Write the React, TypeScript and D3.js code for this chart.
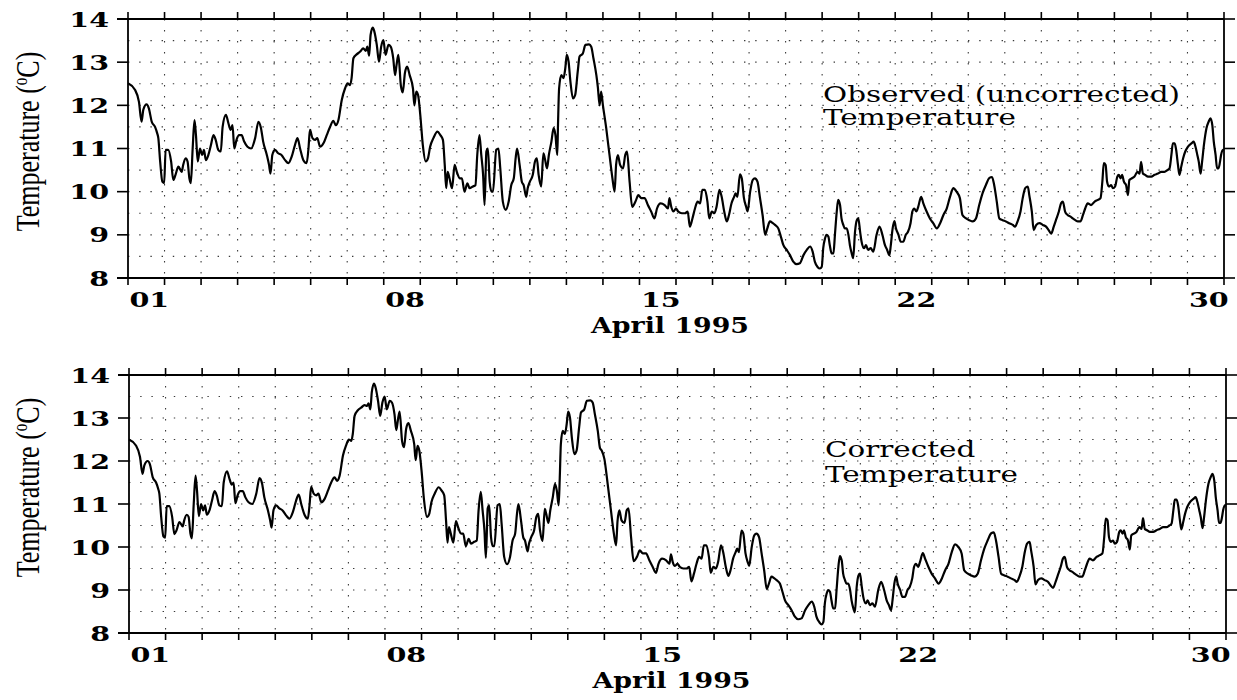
import React from 'react';
import * as d3 from 'd3';

// time in days since 1 April 1995 00:00, temperature in °C
const observed: [number, number][] = [
  [0, 12.51], [0.19, 12.36], [0.3, 12.08], [0.37, 11.62], [0.42, 11.9], [0.51, 12.02], [0.57, 11.93], [0.65, 11.62],
  [0.74, 11.5], [0.8, 11.35], [0.83, 11.24], [0.88, 10.7], [0.94, 10.23], [0.99, 10.2], [1.03, 10.97], [1.1, 10.97],
  [1.18, 10.7], [1.24, 10.27], [1.3, 10.39], [1.38, 10.58], [1.47, 10.46], [1.51, 10.62], [1.58, 10.77], [1.63, 10.7],
  [1.68, 10.31], [1.72, 10.2], [1.77, 11.0], [1.82, 11.66], [1.86, 11.31], [1.91, 10.7], [1.97, 11.0], [2.03, 10.85],
  [2.08, 10.97], [2.13, 10.73], [2.2, 10.85], [2.27, 11.08], [2.34, 11.31], [2.4, 11.2], [2.47, 10.97], [2.54, 10.93],
  [2.59, 11.5], [2.68, 11.78], [2.75, 11.58], [2.81, 11.43], [2.86, 11.54], [2.91, 11.0], [2.97, 11.2], [3.04, 11.31],
  [3.11, 11.31], [3.18, 11.16], [3.27, 11.04], [3.37, 11.0], [3.48, 11.24], [3.57, 11.62], [3.64, 11.47], [3.7, 11.16],
  [3.8, 10.85], [3.86, 10.62], [3.9, 10.42], [3.95, 10.85], [4.02, 10.97], [4.11, 10.89], [4.2, 10.85], [4.3, 10.73],
  [4.39, 10.66], [4.48, 10.81], [4.57, 11.08], [4.64, 11.24], [4.71, 11.0], [4.8, 10.73], [4.89, 10.66], [4.94, 11.0],
  [4.98, 11.43], [5.05, 11.24], [5.12, 11.2], [5.18, 11.24], [5.26, 11.04], [5.35, 11.12], [5.44, 11.31], [5.53, 11.5],
  [5.62, 11.64], [5.69, 11.54], [5.76, 11.66], [5.85, 12.12], [5.94, 12.39], [6.01, 12.51], [6.08, 12.47], [6.12, 12.63],
  [6.17, 13.09], [6.26, 13.18], [6.35, 13.24], [6.44, 13.32], [6.51, 13.26], [6.55, 13.36], [6.6, 13.15], [6.64, 13.63],
  [6.7, 13.8], [6.74, 13.72], [6.81, 13.4], [6.87, 13.01], [6.93, 13.36], [6.99, 13.51], [7.05, 13.17], [7.13, 13.4],
  [7.19, 13.36], [7.26, 13.09], [7.31, 12.7], [7.35, 12.93], [7.4, 13.17], [7.47, 12.45], [7.52, 12.3], [7.58, 12.75],
  [7.64, 12.9], [7.71, 12.7], [7.8, 12.39], [7.84, 12.0], [7.89, 12.32], [7.94, 12.24], [8.0, 11.78], [8.07, 11.08],
  [8.15, 10.7], [8.21, 10.77], [8.27, 11.04], [8.36, 11.24], [8.47, 11.39], [8.55, 11.31], [8.62, 11.2], [8.67, 10.62],
  [8.71, 10.08], [8.75, 10.46], [8.8, 10.31], [8.87, 10.08], [8.94, 10.62], [9.0, 10.46], [9.08, 10.31], [9.14, 10.31],
  [9.21, 10.0], [9.29, 10.19], [9.35, 10.08], [9.44, 10.12], [9.51, 10.15], [9.56, 10.85], [9.62, 11.31], [9.67, 10.85],
  [9.72, 10.39], [9.76, 9.69], [9.81, 10.93], [9.85, 11.0], [9.9, 10.23], [9.95, 10.0], [9.99, 10.0], [10.08, 10.97],
  [10.14, 11.0], [10.19, 10.54], [10.26, 9.77], [10.34, 9.58], [10.42, 9.77], [10.49, 10.15], [10.56, 10.31], [10.61, 10.77],
  [10.65, 11.0], [10.72, 10.62], [10.78, 10.23], [10.83, 10.15], [10.9, 9.88], [10.94, 10.08], [11.0, 10.23], [11.08, 10.39],
  [11.14, 10.7], [11.19, 10.77], [11.24, 10.39], [11.31, 10.12], [11.37, 10.89], [11.41, 10.77], [11.47, 10.54], [11.52, 10.85],
  [11.59, 11.16], [11.65, 11.47], [11.7, 11.31], [11.75, 10.85], [11.77, 11.54], [11.8, 12.39], [11.86, 12.7], [11.92, 12.63],
  [11.97, 12.86], [12.01, 13.17], [12.06, 13.01], [12.11, 12.55], [12.18, 12.16], [12.24, 12.24], [12.31, 12.78], [12.36, 13.13],
  [12.45, 13.2], [12.52, 13.4], [12.62, 13.41], [12.68, 13.36], [12.74, 13.09], [12.82, 12.7], [12.86, 12.43], [12.91, 12.0],
  [12.95, 12.32], [13.0, 12.0], [13.09, 11.47], [13.18, 10.85], [13.26, 10.31], [13.32, 10.0], [13.36, 10.62], [13.41, 10.85],
  [13.47, 10.62], [13.55, 10.54], [13.61, 10.85], [13.66, 10.93], [13.73, 10.23], [13.8, 9.65], [13.89, 9.77], [13.97, 9.92],
  [14.05, 9.85], [14.14, 9.85], [14.23, 9.69], [14.32, 9.54], [14.41, 9.38], [14.48, 9.61], [14.58, 9.73], [14.69, 9.69],
  [14.78, 9.61], [14.82, 9.85], [14.87, 9.65], [14.93, 9.54], [15.0, 9.61], [15.06, 9.54], [15.16, 9.5], [15.25, 9.5],
  [15.32, 9.54], [15.38, 9.19], [15.45, 9.38], [15.52, 9.61], [15.59, 9.77], [15.66, 9.73], [15.72, 10.04], [15.79, 10.04],
  [15.86, 9.77], [15.91, 9.38], [15.98, 9.54], [16.05, 9.5], [16.11, 9.65], [16.19, 10.04], [16.25, 9.88], [16.32, 9.54],
  [16.39, 9.31], [16.45, 9.46], [16.52, 9.73], [16.59, 9.88], [16.63, 9.96], [16.68, 9.88], [16.75, 10.4], [16.8, 10.31],
  [16.86, 9.85], [16.92, 9.65], [16.96, 9.54], [17.03, 10.0], [17.1, 10.27], [17.16, 10.31], [17.23, 10.23], [17.3, 9.85],
  [17.37, 9.46], [17.44, 9.0], [17.5, 9.15], [17.57, 9.31], [17.65, 9.27], [17.71, 9.23], [17.8, 9.15], [17.87, 8.96],
  [17.94, 8.76], [18.03, 8.65], [18.12, 8.53], [18.21, 8.38], [18.3, 8.32], [18.39, 8.34], [18.49, 8.53], [18.58, 8.65],
  [18.67, 8.73], [18.74, 8.61], [18.8, 8.38], [18.88, 8.25], [18.94, 8.22], [18.99, 8.26], [19.03, 8.69], [19.08, 8.92],
  [19.12, 9.0], [19.17, 8.96], [19.21, 8.76], [19.26, 8.57], [19.31, 8.57], [19.35, 9.0], [19.4, 9.54], [19.44, 9.81],
  [19.49, 9.69], [19.53, 9.38], [19.58, 9.23], [19.62, 9.15], [19.67, 9.15], [19.72, 9.0], [19.76, 8.76], [19.81, 8.57],
  [19.85, 8.46], [19.9, 9.07], [19.95, 9.34], [19.99, 9.38], [20.04, 9.07], [20.08, 8.84], [20.15, 8.69], [20.2, 8.76],
  [20.26, 8.65], [20.33, 8.69], [20.4, 8.61], [20.49, 9.0], [20.57, 9.19], [20.65, 9.0], [20.72, 8.76], [20.78, 8.65],
  [20.84, 8.53], [20.88, 8.76], [20.93, 9.15], [20.98, 9.32], [21.02, 9.15], [21.09, 9.0], [21.15, 8.84], [21.22, 8.84],
  [21.29, 9.0], [21.35, 9.07], [21.42, 9.27], [21.47, 9.54], [21.52, 9.61], [21.58, 9.54], [21.63, 9.65], [21.71, 9.88],
  [21.77, 9.73], [21.86, 9.54], [21.95, 9.38], [22.04, 9.27], [22.14, 9.15], [22.23, 9.27], [22.32, 9.46], [22.41, 9.61],
  [22.5, 9.88], [22.59, 10.08], [22.68, 10.0], [22.77, 9.85], [22.84, 9.46], [22.94, 9.38], [23.03, 9.34], [23.12, 9.31],
  [23.21, 9.38], [23.3, 9.69], [23.39, 9.96], [23.48, 10.15], [23.58, 10.32], [23.65, 10.34], [23.71, 10.15], [23.78, 9.77],
  [23.85, 9.38], [23.94, 9.34], [24.03, 9.31], [24.12, 9.27], [24.22, 9.23], [24.28, 9.19], [24.35, 9.31], [24.43, 9.54],
  [24.49, 9.85], [24.56, 10.08], [24.63, 10.12], [24.67, 9.92], [24.74, 9.54], [24.79, 9.11], [24.86, 9.23], [24.95, 9.27],
  [25.04, 9.23], [25.13, 9.19], [25.2, 9.11], [25.27, 9.03], [25.34, 9.19], [25.4, 9.34], [25.48, 9.54], [25.54, 9.73],
  [25.59, 9.77], [25.65, 9.54], [25.72, 9.46], [25.8, 9.42], [25.86, 9.38], [25.93, 9.34], [26.0, 9.31], [26.07, 9.31],
  [26.14, 9.46], [26.2, 9.61], [26.27, 9.73], [26.36, 9.69], [26.46, 9.77], [26.55, 9.81], [26.62, 9.85], [26.67, 10.23],
  [26.71, 10.66], [26.76, 10.62], [26.8, 10.23], [26.85, 10.12], [26.91, 10.15], [26.96, 10.08], [27.02, 10.12], [27.08, 10.35],
  [27.12, 10.39], [27.17, 10.31], [27.21, 10.39], [27.26, 10.23], [27.32, 10.15], [27.37, 9.92], [27.41, 10.27], [27.48, 10.31],
  [27.55, 10.35], [27.63, 10.46], [27.69, 10.42], [27.73, 10.69], [27.78, 10.42], [27.84, 10.39], [27.92, 10.35], [28.01, 10.35],
  [28.1, 10.39], [28.19, 10.42], [28.28, 10.46], [28.37, 10.46], [28.45, 10.5], [28.51, 10.54], [28.56, 10.85], [28.6, 11.12],
  [28.65, 11.12], [28.69, 10.97], [28.74, 10.62], [28.78, 10.39], [28.83, 10.58], [28.88, 10.77], [28.94, 10.93], [29.01, 11.04],
  [29.11, 11.12], [29.17, 11.16], [29.22, 11.04], [29.27, 10.85], [29.31, 10.69], [29.36, 10.42], [29.4, 10.69], [29.45, 11.08],
  [29.52, 11.47], [29.58, 11.62], [29.63, 11.7], [29.68, 11.54], [29.72, 11.16], [29.77, 10.85], [29.81, 10.54], [29.85, 10.54],
  [29.89, 10.69], [29.92, 10.85], [29.97, 10.97], [30.0, 10.97],
];

const corrected: [number, number][] = [
  [0, 12.5], [0.19, 12.36], [0.3, 12.1], [0.37, 11.7], [0.42, 11.9], [0.51, 12.0], [0.57, 11.93], [0.65, 11.62],
  [0.74, 11.5], [0.8, 11.35], [0.83, 11.24], [0.88, 10.7], [0.94, 10.25], [0.99, 10.22], [1.03, 10.95], [1.1, 10.95],
  [1.18, 10.7], [1.24, 10.3], [1.3, 10.39], [1.38, 10.58], [1.47, 10.48], [1.51, 10.62], [1.58, 10.75], [1.63, 10.7],
  [1.68, 10.31], [1.72, 10.2], [1.77, 11.0], [1.82, 11.66], [1.86, 11.31], [1.91, 10.72], [1.97, 11.0], [2.03, 10.85],
  [2.08, 10.97], [2.13, 10.75], [2.2, 10.85], [2.27, 11.08], [2.34, 11.3], [2.4, 11.2], [2.47, 10.97], [2.54, 10.95],
  [2.59, 11.5], [2.68, 11.76], [2.75, 11.58], [2.81, 11.45], [2.86, 11.5], [2.91, 11.02], [2.97, 11.2], [3.04, 11.3],
  [3.11, 11.3], [3.18, 11.16], [3.27, 11.04], [3.37, 11.0], [3.48, 11.24], [3.57, 11.6], [3.64, 11.47], [3.7, 11.16],
  [3.8, 10.85], [3.86, 10.62], [3.9, 10.45], [3.95, 10.85], [4.02, 10.97], [4.11, 10.9], [4.2, 10.85], [4.3, 10.73],
  [4.39, 10.66], [4.48, 10.81], [4.57, 11.08], [4.64, 11.22], [4.71, 11.0], [4.8, 10.75], [4.89, 10.66], [4.94, 11.0],
  [4.98, 11.4], [5.05, 11.24], [5.12, 11.2], [5.18, 11.24], [5.26, 11.04], [5.35, 11.12], [5.44, 11.31], [5.53, 11.5],
  [5.62, 11.62], [5.69, 11.54], [5.76, 11.66], [5.85, 12.12], [5.94, 12.37], [6.01, 12.5], [6.08, 12.47], [6.12, 12.63],
  [6.17, 13.05], [6.26, 13.18], [6.35, 13.24], [6.44, 13.3], [6.51, 13.28], [6.55, 13.34], [6.6, 13.2], [6.64, 13.6],
  [6.7, 13.8], [6.74, 13.72], [6.81, 13.4], [6.87, 13.05], [6.93, 13.36], [6.99, 13.5], [7.05, 13.2], [7.13, 13.4],
  [7.19, 13.36], [7.26, 13.09], [7.31, 12.72], [7.35, 12.93], [7.4, 13.15], [7.47, 12.45], [7.52, 12.32], [7.58, 12.75],
  [7.64, 12.88], [7.71, 12.7], [7.8, 12.39], [7.84, 12.02], [7.89, 12.35], [7.94, 12.24], [8.0, 11.78], [8.07, 11.08],
  [8.15, 10.7], [8.21, 10.77], [8.27, 11.04], [8.36, 11.24], [8.47, 11.39], [8.55, 11.31], [8.62, 11.2], [8.67, 10.62],
  [8.71, 10.1], [8.75, 10.46], [8.8, 10.31], [8.87, 10.1], [8.94, 10.6], [9.0, 10.46], [9.08, 10.31], [9.14, 10.31],
  [9.21, 10.02], [9.29, 10.19], [9.35, 10.08], [9.44, 10.12], [9.51, 10.15], [9.56, 10.85], [9.62, 11.28], [9.67, 10.85],
  [9.72, 10.39], [9.76, 9.75], [9.81, 10.9], [9.85, 10.97], [9.9, 10.23], [9.95, 10.02], [9.99, 10.02], [10.08, 10.97],
  [10.14, 11.0], [10.19, 10.54], [10.26, 9.77], [10.34, 9.6], [10.42, 9.77], [10.49, 10.15], [10.56, 10.31], [10.61, 10.77],
  [10.65, 11.0], [10.72, 10.62], [10.78, 10.23], [10.83, 10.15], [10.9, 9.9], [10.94, 10.08], [11.0, 10.23], [11.08, 10.39],
  [11.14, 10.7], [11.19, 10.77], [11.24, 10.39], [11.31, 10.14], [11.37, 10.89], [11.41, 10.77], [11.47, 10.56], [11.52, 10.85],
  [11.59, 11.16], [11.65, 11.47], [11.7, 11.31], [11.75, 10.97], [11.78, 11.6], [11.81, 12.39], [11.86, 12.7], [11.92, 12.63],
  [11.97, 12.86], [12.01, 13.15], [12.06, 13.01], [12.11, 12.55], [12.18, 12.16], [12.24, 12.24], [12.31, 12.78], [12.36, 13.13],
  [12.45, 13.2], [12.52, 13.4], [12.62, 13.41], [12.68, 13.36], [12.74, 13.09], [12.82, 12.7], [12.88, 12.3], [12.93, 12.24],
  [13.0, 12.05], [13.09, 11.47], [13.18, 10.85], [13.26, 10.31], [13.32, 10.04], [13.36, 10.6], [13.41, 10.85],
  [13.47, 10.62], [13.55, 10.56], [13.61, 10.85], [13.66, 10.9], [13.73, 10.23], [13.8, 9.67], [13.89, 9.77], [13.97, 9.92],
  [14.05, 9.85], [14.14, 9.85], [14.23, 9.69], [14.32, 9.54], [14.41, 9.4], [14.48, 9.61], [14.58, 9.73], [14.69, 9.69],
  [14.78, 9.61], [14.82, 9.83], [14.87, 9.65], [14.93, 9.56], [15.0, 9.61], [15.06, 9.54], [15.16, 9.5], [15.25, 9.5],
  [15.32, 9.54], [15.38, 9.2], [15.45, 9.38], [15.52, 9.61], [15.59, 9.77], [15.66, 9.73], [15.72, 10.04], [15.79, 10.04],
  [15.86, 9.77], [15.91, 9.4], [15.98, 9.54], [16.05, 9.5], [16.11, 9.65], [16.19, 10.04], [16.25, 9.88], [16.32, 9.54],
  [16.39, 9.33], [16.45, 9.46], [16.52, 9.73], [16.59, 9.88], [16.63, 9.96], [16.68, 9.88], [16.75, 10.38], [16.8, 10.31],
  [16.86, 9.85], [16.92, 9.65], [16.96, 9.56], [17.03, 10.0], [17.1, 10.27], [17.16, 10.31], [17.23, 10.23], [17.3, 9.85],
  [17.37, 9.46], [17.44, 9.02], [17.5, 9.15], [17.57, 9.31], [17.65, 9.27], [17.71, 9.23], [17.8, 9.15], [17.87, 8.96],
  [17.94, 8.76], [18.03, 8.65], [18.12, 8.53], [18.21, 8.38], [18.3, 8.32], [18.39, 8.34], [18.49, 8.53], [18.58, 8.65],
  [18.67, 8.73], [18.74, 8.61], [18.8, 8.38], [18.88, 8.25], [18.94, 8.2], [18.99, 8.26], [19.03, 8.69], [19.08, 8.92],
  [19.12, 9.0], [19.17, 8.96], [19.21, 8.76], [19.26, 8.57], [19.31, 8.57], [19.35, 9.0], [19.4, 9.54], [19.44, 9.79],
  [19.49, 9.69], [19.53, 9.38], [19.58, 9.23], [19.62, 9.15], [19.67, 9.15], [19.72, 9.0], [19.76, 8.76], [19.81, 8.57],
  [19.85, 8.48], [19.9, 9.07], [19.95, 9.34], [19.99, 9.38], [20.04, 9.07], [20.08, 8.84], [20.15, 8.69], [20.2, 8.76],
  [20.26, 8.65], [20.33, 8.69], [20.4, 8.61], [20.49, 9.0], [20.57, 9.19], [20.65, 9.0], [20.72, 8.76], [20.78, 8.65],
  [20.84, 8.53], [20.88, 8.76], [20.93, 9.15], [20.98, 9.32], [21.02, 9.15], [21.09, 9.0], [21.15, 8.84], [21.22, 8.84],
  [21.29, 9.0], [21.35, 9.07], [21.42, 9.27], [21.47, 9.54], [21.52, 9.61], [21.58, 9.54], [21.63, 9.65], [21.71, 9.86],
  [21.77, 9.73], [21.86, 9.54], [21.95, 9.38], [22.04, 9.27], [22.14, 9.15], [22.23, 9.27], [22.32, 9.46], [22.41, 9.61],
  [22.5, 9.88], [22.59, 10.06], [22.68, 10.0], [22.77, 9.85], [22.84, 9.46], [22.94, 9.38], [23.03, 9.34], [23.12, 9.31],
  [23.21, 9.38], [23.3, 9.69], [23.39, 9.96], [23.48, 10.15], [23.58, 10.32], [23.65, 10.34], [23.71, 10.15], [23.78, 9.77],
  [23.85, 9.38], [23.94, 9.34], [24.03, 9.31], [24.12, 9.27], [24.22, 9.23], [24.28, 9.19], [24.35, 9.31], [24.43, 9.54],
  [24.49, 9.85], [24.56, 10.08], [24.63, 10.12], [24.67, 9.92], [24.74, 9.54], [24.79, 9.13], [24.86, 9.23], [24.95, 9.27],
  [25.04, 9.23], [25.13, 9.19], [25.2, 9.11], [25.27, 9.05], [25.34, 9.19], [25.4, 9.34], [25.48, 9.54], [25.54, 9.73],
  [25.59, 9.77], [25.65, 9.54], [25.72, 9.46], [25.8, 9.42], [25.86, 9.38], [25.93, 9.34], [26.0, 9.31], [26.07, 9.31],
  [26.14, 9.46], [26.2, 9.61], [26.27, 9.73], [26.36, 9.69], [26.46, 9.77], [26.55, 9.81], [26.62, 9.85], [26.67, 10.23],
  [26.71, 10.66], [26.76, 10.62], [26.8, 10.23], [26.85, 10.12], [26.91, 10.15], [26.96, 10.08], [27.02, 10.12], [27.08, 10.35],
  [27.12, 10.39], [27.17, 10.31], [27.21, 10.39], [27.26, 10.23], [27.32, 10.15], [27.37, 9.94], [27.41, 10.27], [27.48, 10.31],
  [27.55, 10.35], [27.63, 10.46], [27.69, 10.42], [27.73, 10.67], [27.78, 10.42], [27.84, 10.39], [27.92, 10.35], [28.01, 10.35],
  [28.1, 10.39], [28.19, 10.42], [28.28, 10.46], [28.37, 10.46], [28.45, 10.5], [28.51, 10.54], [28.56, 10.85], [28.6, 11.1],
  [28.65, 11.1], [28.69, 10.97], [28.74, 10.62], [28.78, 10.41], [28.83, 10.58], [28.88, 10.77], [28.94, 10.93], [29.01, 11.04],
  [29.11, 11.12], [29.17, 11.16], [29.22, 11.04], [29.27, 10.85], [29.31, 10.69], [29.36, 10.44], [29.4, 10.69], [29.45, 11.08],
  [29.52, 11.47], [29.58, 11.62], [29.63, 11.7], [29.68, 11.54], [29.72, 11.16], [29.77, 10.85], [29.81, 10.56], [29.85, 10.56],
  [29.89, 10.69], [29.92, 10.85], [29.97, 10.97], [30.0, 10.97],
];

const yTicks = [8, 9, 10, 11, 12, 13, 14];
const yGrid = [8.5, 9, 9.5, 10, 10.5, 11, 11.5, 12, 12.5, 13, 13.5];
const labelDays = [1, 8, 15, 22, 30];
const dayLabels = ['01', '08', '15', '22', '30'];
const xTitle = 'April 1995';
const yTitle = 'Temperature (';
const topTitle = ['Observed (uncorrected)', 'Temperature'];
const bottomTitle = ['Corrected', 'Temperature'];

const W = 1237;
const H = 700;
const BOLD = '"DejaVu Serif", serif';
const PLAIN = '"DejaVu Serif", serif';
const YLAB = '"Liberation Serif", "Times New Roman", serif';
const SX = 1.36;

type PanelProps = {
  data: [number, number][];
  top: number;
  bottom: number;
  left: number;
  right: number;
  title: string[];
  titleX: number;
  titleY: number[];
  yLabelY: number;
};

function Panel({ data, top, bottom, left, right, title, titleX, titleY, yLabelY }: PanelProps) {
  const x = d3.scaleLinear().domain([0, 30]).range([left, right]);
  const y = d3.scaleLinear().domain([8, 14]).range([bottom, top]);
  const dayTicks = x.ticks(30);
  const line = d3
    .line<[number, number]>()
    .x((d) => x(d[0]))
    .y((d) => y(d[1]))
    .curve(d3.curveMonotoneX);
  const grid = '#3a3a3a';
  return (
    <g>
      {/* grid */}
      {yGrid.map((v) => (
        <line key={'hg' + v} x1={left} x2={right} y1={y(v)} y2={y(v)} stroke={grid} strokeWidth={1.1} strokeDasharray="1.4 9.8" />
      ))}
      {dayTicks.slice(1, -1).map((d) => (
        <line key={'vg' + d} x1={x(d)} x2={x(d)} y1={top} y2={bottom} stroke={grid} strokeWidth={1.1} strokeDasharray="1.4 9.6" />
      ))}
      {/* data */}
      <path d={line(data) || ''} fill="none" stroke="#000" strokeWidth={2.2} strokeLinejoin="round" />
      {/* frame */}
      <line x1={left - 11} x2={right} y1={top} y2={top} stroke="#000" strokeWidth={1.8} />
      <line x1={left - 11} x2={right} y1={bottom} y2={bottom} stroke="#000" strokeWidth={1.8} />
      <line x1={left} x2={left} y1={top} y2={bottom} stroke="#000" strokeWidth={1.8} />
      <line x1={right} x2={right} y1={top} y2={bottom} stroke="#000" strokeWidth={1.8} />
      {/* x ticks */}
      {dayTicks.map((d) => (
        <g key={'xt' + d}>
          <line x1={x(d)} x2={x(d)} y1={bottom} y2={bottom + 7} stroke="#000" strokeWidth={1.6} />
          <line x1={x(d)} x2={x(d)} y1={top} y2={top - 7} stroke="#000" strokeWidth={1.6} />
        </g>
      ))}
      {/* y ticks */}
      {yTicks.map((v) => (
        <g key={'yt' + v}>
          <line x1={left - 11} x2={left} y1={y(v)} y2={y(v)} stroke="#000" strokeWidth={1.6} />
          <line x1={right} x2={right + 11} y1={y(v)} y2={y(v)} stroke="#000" strokeWidth={1.6} />
          <text
            transform={`translate(${left - 19},${y(v) + 7.5}) scale(${SX},1)`}
            textAnchor="end"
            fontFamily={BOLD}
            fontWeight="bold"
            fontSize={21}
          >
            {v}
          </text>
        </g>
      ))}
      {/* x tick labels */}
      {labelDays.map((d, i) => (
        <text
          key={'xl' + d}
          transform={`translate(${x(d - 0.5) + 3},${bottom + 28.5}) scale(${SX},1)`}
          textAnchor="middle"
          fontFamily={BOLD}
          fontWeight="bold"
          fontSize={21}
        >
          {dayLabels[i]}
        </text>
      ))}
      <text
        transform={`translate(${x(15) - 6},${bottom + 55}) scale(1.22,1)`}
        textAnchor="middle"
        fontFamily={BOLD}
        fontWeight="bold"
        fontSize={22}
      >
        {xTitle}
      </text>
      {/* y title */}
      <text
        transform={`translate(39,${yLabelY}) scale(1.33,1) rotate(-90)`}
        textAnchor="middle"
        fontFamily={YLAB}
        fontSize={26}
      >
        {yTitle}
        <tspan fontSize={15} dy={-9}>o</tspan>
        <tspan dy={9}>C)</tspan>
      </text>
      {/* panel title */}
      {title.map((t, i) => (
        <text
          key={'tt' + i}
          transform={`translate(${titleX},${titleY[i]}) scale(1.28,1)`}
          fontFamily={PLAIN}
          fontSize={23}
        >
          {t}
        </text>
      ))}
    </g>
  );
}

export default function App() {
  return (
    <svg
      width={W}
      height={H}
      viewBox={`0 0 ${W} ${H}`}
      style={{ position: 'absolute', left: 0, top: 0, background: '#fff' }}
    >
      <rect x={0} y={0} width={W} height={H} fill="#fff" />
      <Panel
        data={observed}
        top={19}
        bottom={278}
        left={128}
        right={1224}
        title={topTitle}
        titleX={823}
        titleY={[102, 125]}
        yLabelY={141.5}
      />
      <Panel
        data={corrected}
        top={375}
        bottom={633}
        left={129}
        right={1226}
        title={bottomTitle}
        titleX={825}
        titleY={[457, 482]}
        yLabelY={487.5}
      />
    </svg>
  );
}
